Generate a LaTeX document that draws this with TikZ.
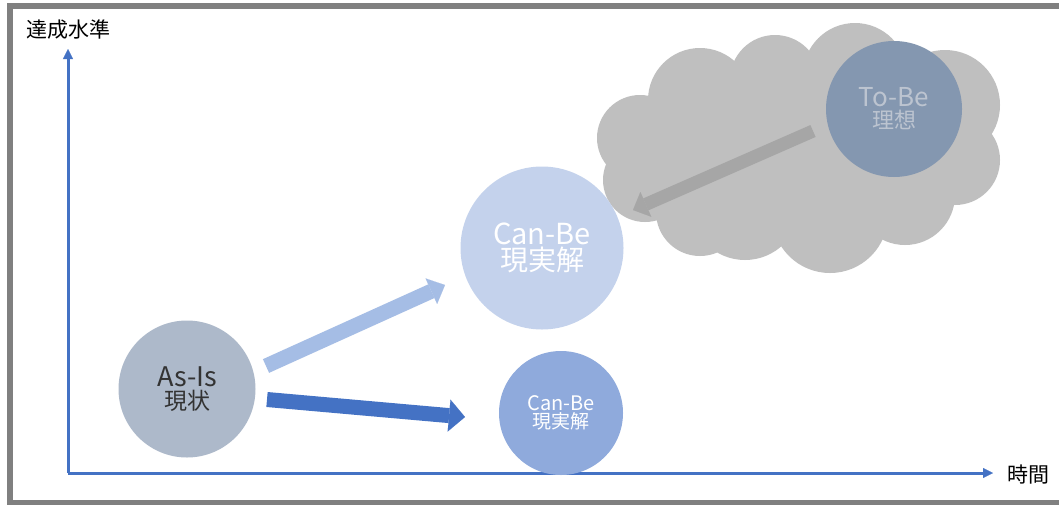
\documentclass[tikz,border=0pt]{standalone}
\usepackage{fontspec}
\setmainfont{Noto Sans CJK JP}
\usetikzlibrary{arrows.meta}
\definecolor{framec}{HTML}{808080}
\definecolor{axisc}{HTML}{4472C4}
\definecolor{asisc}{HTML}{ADB9CA}
\definecolor{cbbigc}{HTML}{C4D2EC}
\definecolor{cbsmallc}{HTML}{8FAADC}
\definecolor{tobec}{HTML}{8497B0}
\definecolor{tobetext}{HTML}{BCC4D0}
\definecolor{cloudc}{HTML}{BFBFBF}
\definecolor{grayarr}{HTML}{A6A6A6}
\definecolor{lightarr}{HTML}{A5BDE5}
\definecolor{darkarr}{HTML}{4472C4}
\definecolor{asistext}{HTML}{333333}
\newcommand{\fsz}[1]{\fontsize{#1}{#1}\selectfont}
\begin{document}
\begin{tikzpicture}[x=1pt,y=-1pt,
  axis/.style={draw=axisc, line width=3pt, -{Triangle[length=10pt,width=10pt,line width=0.1pt]}},
  lbl/.style={font=\fontsize{21}{24}\selectfont, text=black, inner sep=0pt},
  bubble/.style={circle, inner sep=0pt, align=center},
  blockarr/.style={line width=15pt, -{Triangle[length=15pt,width=30pt,line width=0.1pt]}}
]
\useasboundingbox (0,0) rectangle (1059,504);
\fill[white] (0,0) rectangle (1059,504);
\draw[framec, line width=6pt] (10,6) rectangle (1095,503);

% axes
\coordinate (O) at (68,473);
\coordinate (Ytip) at (68,49);
\coordinate (Xtip) at (993,473);
\draw[axis] (O) -- (Ytip);
\draw[axis] (O) -- (Xtip);
\node[lbl] (ylab) at (68,30) {達成水準};
\node[lbl] (xlab) at (1028,475) {時間};

% cloud
\fill[cloudc]
  (640,138) circle[radius=43pt]
  (700,100) circle[radius=52pt]
  (775,80) circle[radius=45pt]
  (855,75) circle[radius=52pt]
  (945,105) circle[radius=55pt]
  (955,160) circle[radius=45pt]
  (905,195) circle[radius=50pt]
  (830,215) circle[radius=58pt]
  (745,205) circle[radius=55pt]
  (700,212) circle[radius=44pt]
  (645,180) circle[radius=42pt]
  (800,150) ellipse[x radius=150pt, y radius=80pt];

% To-Be
\node[bubble, fill=tobec, minimum size=136pt, text=tobetext]
  (tobe) at (894,109) {{\fsz{26}To-Be}\\[2pt]{\fsz{22}理想}};
\coordinate (g1s) at (813,131);
\coordinate (g1e) at (633,210);
\draw[blockarr, grayarr, line width=13pt, -{Triangle[length=14pt,width=27pt,line width=0.1pt]}] (g1s) -- (g1e);

% Can-Be big
\node[bubble, fill=cbbigc, minimum size=163pt, text=white]
  (cbbig) at (542,248) {{\fsz{29}Can-Be}\\[1pt]{\fsz{28}現実解}};

% Can-Be small
\node[bubble, fill=cbsmallc, minimum size=124pt, text=white]
  (cbsmall) at (561,413) {{\fsz{20}Can-Be}\\[1pt]{\fsz{19}現実解}};

% As-Is
\node[bubble, fill=asisc, minimum size=137pt, text=asistext]
  (asis) at (187,389) {{\fsz{27}As-Is}\\[2pt]{\fsz{23}現状}};

% arrows
\coordinate (a1s) at (266,366);
\coordinate (a1e) at (445,285);
\draw[blockarr, lightarr, -{Triangle[length=15pt,width=28pt,line width=0.1pt]}] (a1s) -- (a1e);
\coordinate (a2s) at (267,399.5);
\coordinate (a2e) at (465,417);
\draw[blockarr, darkarr, -{Triangle[length=16pt,width=32pt,line width=0.1pt]}] (a2s) -- (a2e);
\end{tikzpicture}
\end{document}
